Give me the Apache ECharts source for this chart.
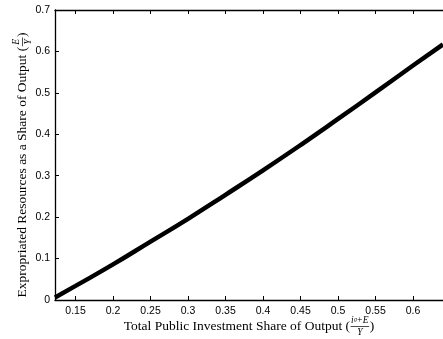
<!DOCTYPE html>
<html>
<head>
<meta charset="utf-8">
<script src="https://cdn.jsdelivr.net/npm/echarts@6/dist/echarts.min.js"></script>
<style>
  html, body { margin: 0; padding: 0; background: #fff; }
  #chart { width: 443px; height: 339px; }
</style>
</head>
<body>
<div id="chart"></div>
<script>
// investment share (x) and expropriated share (y)
const investShare = [0.1226, 0.15, 0.2, 0.25, 0.3, 0.35, 0.4, 0.45, 0.5, 0.55, 0.6, 0.64];
const exproShare = [0.006, 0.034, 0.086, 0.141, 0.196, 0.254, 0.313, 0.374, 0.437, 0.501, 0.566, 0.617];
const xTicks = [0.15, 0.2, 0.25, 0.3, 0.35, 0.4, 0.45, 0.5, 0.55, 0.6];
const yTicks = [0, 0.1, 0.2, 0.3, 0.4, 0.5, 0.6, 0.7];

const serif = '"Liberation Serif", "DejaVu Serif", serif';
const sans = '"Liberation Sans", Arial, sans-serif';

// measure text so the little fractions sit right after the titles
const ctx = document.createElement('canvas').getContext('2d');
function textWidth (str, size) {
  ctx.font = size + 'px ' + serif;
  return ctx.measureText(str).width;
}

// a title followed by ( num / den ), built as graphic text pieces
function titleWithFraction (main, num, den) {
  const fs = 13.5, small = 9.5;
  const w1 = textWidth(main, fs);
  const wf = Math.max(textWidth(num, small), textWidth(den, small)) + 3;
  const total = w1 + wf + textWidth(')', fs);
  const x0 = -total / 2;
  return [
    { type: 'text', x: x0, y: 0, style: { text: main, font: fs + 'px ' + serif, fill: '#000', textVerticalAlign: 'middle' } },
    { type: 'text', x: x0 + w1 + wf / 2, y: -5.5, style: { text: num, font: 'italic ' + small + 'px ' + serif, fill: '#000', textAlign: 'center', textVerticalAlign: 'middle' } },
    { type: 'line', shape: { x1: x0 + w1 + 0.5, y1: 0.5, x2: x0 + w1 + wf - 0.5, y2: 0.5 }, style: { stroke: '#000', lineWidth: 0.7 } },
    { type: 'text', x: x0 + w1 + wf / 2, y: 6.5, style: { text: den, font: 'italic ' + small + 'px ' + serif, fill: '#000', textAlign: 'center', textVerticalAlign: 'middle' } },
    { type: 'text', x: x0 + w1 + wf, y: 0, style: { text: ')', font: fs + 'px ' + serif, fill: '#000', textVerticalAlign: 'middle' } }
  ];
}

const chart = echarts.init(document.getElementById('chart'));

const xMin = 0.1226, xMax = 0.64;
const axisLine = { show: true, lineStyle: { color: '#000', width: 1.3 } };
const tickStyle = { show: true, inside: true, length: 4, lineStyle: { color: '#000', width: 1 } };

const option = {
  animation: false,
  backgroundColor: '#fff',
  grid: { left: 55, right: -9, top: 10, bottom: 39 },
  xAxis: [{
    type: 'value',
    min: xMin,
    max: xMax,
    axisLine: axisLine,
    axisTick: Object.assign({ customValues: xTicks }, tickStyle),
    axisLabel: { customValues: xTicks, color: '#000', fontFamily: sans, fontSize: 10.5, margin: 6 },
    splitLine: { show: false }
  }, {
    type: 'value',
    position: 'top',
    min: xMin,
    max: xMax,
    axisLine: axisLine,
    axisTick: Object.assign({ customValues: xTicks }, tickStyle),
    axisLabel: { show: false },
    splitLine: { show: false }
  }],
  yAxis: {
    type: 'value',
    min: 0,
    max: 0.7,
    interval: 0.1,
    axisLine: axisLine,
    axisTick: Object.assign({ customValues: yTicks }, tickStyle),
    axisLabel: { customValues: yTicks, color: '#000', fontFamily: sans, fontSize: 10.5, margin: 5 },
    splitLine: { show: false }
  },
  series: [{
    type: 'line',
    data: investShare.map((x, i) => [x, exproShare[i]]),
    smooth: true,
    showSymbol: false,
    lineStyle: { color: '#000', width: 4.5 },
    clip: true
  }],
  graphic: [{
    type: 'group',
    x: 249,
    y: 326,
    children: titleWithFraction('Total Public Investment Share of Output (', 'i\u1D4D+E', 'Y')
  }, {
    type: 'group',
    x: 22,
    y: 165,
    rotation: Math.PI / 2,
    children: titleWithFraction('Expropriated Resources as a Share of Output (', 'E', 'Y')
  }]
};

chart.setOption(option);
</script>
</body>
</html>
